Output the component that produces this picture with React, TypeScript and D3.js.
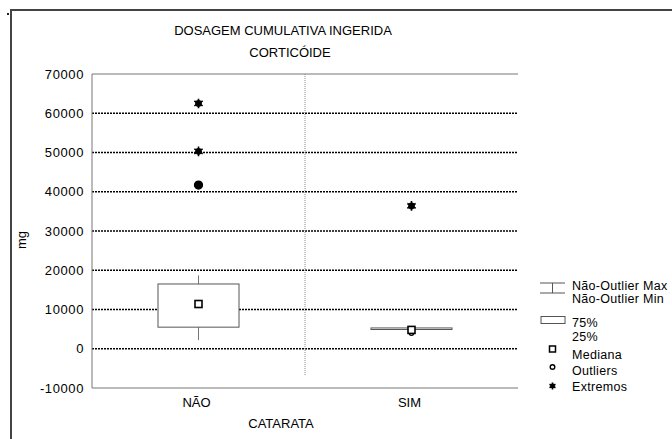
import React, { useEffect, useRef } from "react";
import * as d3 from "d3";

const categories = ["NÃO", "SIM"];
const q1 = [5500, 4900];
const q3 = [16500, 5300];
const medians = [11400, 4800];
const whiskerMin = [2200, 4900];
const whiskerMax = [18700, 5300];
const outliers = [[41700], [4000]];
const extremes = [[62500, 50300], [36400]];
const yTicks = [70000, 60000, 50000, 40000, 30000, 20000, 10000, 0, -10000];

const W = 672;
const H = 439;

export default function App() {
  const ref = useRef<SVGSVGElement>(null);

  useEffect(() => {
    const svg = d3.select(ref.current);
    svg.selectAll("*").remove();
    const font = "'Liberation Sans', Arial, sans-serif";

    const x = d3.scaleBand().domain(categories).range([92, 518]);
    const y = d3.scaleLinear().domain([-10000, 70000]).range([388, 74]);
    const bw = 81;

    // outer frame (top + left only)
    svg.append("path")
      .attr("d", `M11,${H} V10 H${W}`)
      .attr("fill", "none")
      .attr("stroke", "#444")
      .attr("stroke-width", 2);
    svg.append("rect").attr("x", 7).attr("y", 13).attr("width", 2).attr("height", 2).attr("fill", "#222");

    // titles
    svg.append("text").attr("x", 283).attr("y", 35).attr("text-anchor", "middle")
      .attr("font-family", font).attr("font-size", 13).text("DOSAGEM CUMULATIVA INGERIDA");
    svg.append("text").attr("x", 290).attr("y", 57).attr("text-anchor", "middle")
      .attr("font-family", font).attr("font-size", 13).text("CORTICÓIDE");

    // grid lines
    svg.selectAll(".grid")
      .data(yTicks.filter(t => t !== 70000 && t !== -10000))
      .enter().append("line")
      .attr("x1", 92).attr("x2", 518)
      .attr("y1", d => y(d)).attr("y2", d => y(d))
      .attr("stroke", "#000")
      .attr("stroke-width", 1.6)
      .attr("stroke-dasharray", "2,1");

    // plot border
    svg.append("path")
      .attr("d", `M518,${y(70000)} H92 V${y(-10000)} H518`)
      .attr("fill", "none")
      .attr("stroke", "#777")
      .attr("stroke-width", 1);

    // middle divider
    svg.append("line")
      .attr("x1", 305).attr("x2", 305).attr("y1", y(70000)).attr("y2", 376)
      .attr("stroke", "#888").attr("stroke-width", 1).attr("stroke-dasharray", "1,1");

    // y labels
    svg.selectAll(".ylab")
      .data(yTicks)
      .enter().append("text")
      .attr("x", 84).attr("y", d => y(d) + 4.5)
      .attr("text-anchor", "end")
      .attr("font-family", font).attr("font-size", 13)
      .attr("letter-spacing", 0.6)
      .text(d => String(d));

    svg.append("text")
      .attr("transform", `translate(26,240) rotate(-90)`)
      .attr("text-anchor", "middle")
      .attr("font-family", font).attr("font-size", 13)
      .text("mg");

    // x labels
    svg.selectAll(".xlab")
      .data(categories)
      .enter().append("text")
      .attr("x", d => (x(d) as number) + x.bandwidth() / 2 - 2)
      .attr("y", 407)
      .attr("text-anchor", "middle")
      .attr("font-family", font).attr("font-size", 13)
      .text(d => d);
    svg.append("text").attr("x", 281).attr("y", 428).attr("text-anchor", "middle")
      .attr("font-family", font).attr("font-size", 13).text("CATARATA");

    const cx = (i: number) => (x(categories[i]) as number) + x.bandwidth() / 2;

    const asterisk = (g: any, px: number, py: number, r: number) => {
      g.append("circle").attr("cx", px).attr("cy", py).attr("r", r * 0.75).attr("fill", "#000");
      g.append("path")
        .attr("transform", `translate(${px},${py})`)
        .attr("d", d3.symbol().type(d3.symbolAsterisk).size(r * r * 3.2)())
        .attr("stroke", "#000").attr("stroke-width", 1.6).attr("fill", "none");
    };

    categories.forEach((c, i) => {
      const g = svg.append("g");
      const m = cx(i);
      g.append("line").attr("x1", m).attr("x2", m).attr("y1", y(whiskerMax[i])).attr("y2", y(q3[i]))
        .attr("stroke", "#777").attr("stroke-width", 1);
      g.append("line").attr("x1", m).attr("x2", m).attr("y1", y(q1[i])).attr("y2", y(whiskerMin[i]))
        .attr("stroke", "#777").attr("stroke-width", 1);
      g.append("rect")
        .attr("x", m - bw / 2).attr("width", bw)
        .attr("y", y(q3[i])).attr("height", Math.max(1, y(q1[i]) - y(q3[i])))
        .attr("fill", "#fff").attr("stroke", "#555").attr("stroke-width", 1);
      outliers[i].forEach(v => {
        g.append("circle").attr("cx", m).attr("cy", y(v))
          .attr("r", i === 0 ? 4 : 2.3)
          .attr("fill", i === 0 ? "#000" : "#fff")
          .attr("stroke", "#000").attr("stroke-width", 1.3);
      });
      g.append("rect").attr("x", m - 3.5).attr("y", y(medians[i]) - 3.5).attr("width", 7).attr("height", 7)
        .attr("fill", "#fff").attr("stroke", "#000").attr("stroke-width", 1.6);
      extremes[i].forEach(v => asterisk(g, m, y(v), 4.5));
    });

    // legend
    const lg = svg.append("g");
    const lx = 572;
    lg.append("path").attr("d", "M540,283 H565 M540,293 H565 M552.5,283 V293")
      .attr("stroke", "#555").attr("stroke-width", 1).attr("fill", "none");
    lg.append("rect").attr("x", 541).attr("y", 316.5).attr("width", 24).attr("height", 7)
      .attr("fill", "#fff").attr("stroke", "#555").attr("stroke-width", 1);
    lg.append("rect").attr("x", 549.5).attr("y", 346).attr("width", 6).attr("height", 6)
      .attr("fill", "#fff").attr("stroke", "#000").attr("stroke-width", 1.5);
    lg.append("circle").attr("cx", 552.5).attr("cy", 367).attr("r", 2.3)
      .attr("fill", "#fff").attr("stroke", "#000").attr("stroke-width", 1.4);
    asterisk(lg, 552.5, 386, 3.2);

    const legendText = [
      ["Não-Outlier Max", 285],
      ["Não-Outlier Min", 298],
      ["75%", 322],
      ["25%", 336],
      ["Mediana", 354],
      ["Outliers", 370],
      ["Extremos", 386],
    ] as [string, number][];
    lg.selectAll(".lt")
      .data(legendText)
      .enter().append("text")
      .attr("x", lx).attr("y", d => d[1] + 4.5)
      .attr("font-family", font).attr("font-size", 12.5)
      .attr("letter-spacing", 0.3)
      .text(d => d[0]);
  }, []);

  return (
    <svg ref={ref} width={W} height={H}
      style={{ position: "absolute", left: 0, top: 0, background: "#fff" }} />
  );
}
